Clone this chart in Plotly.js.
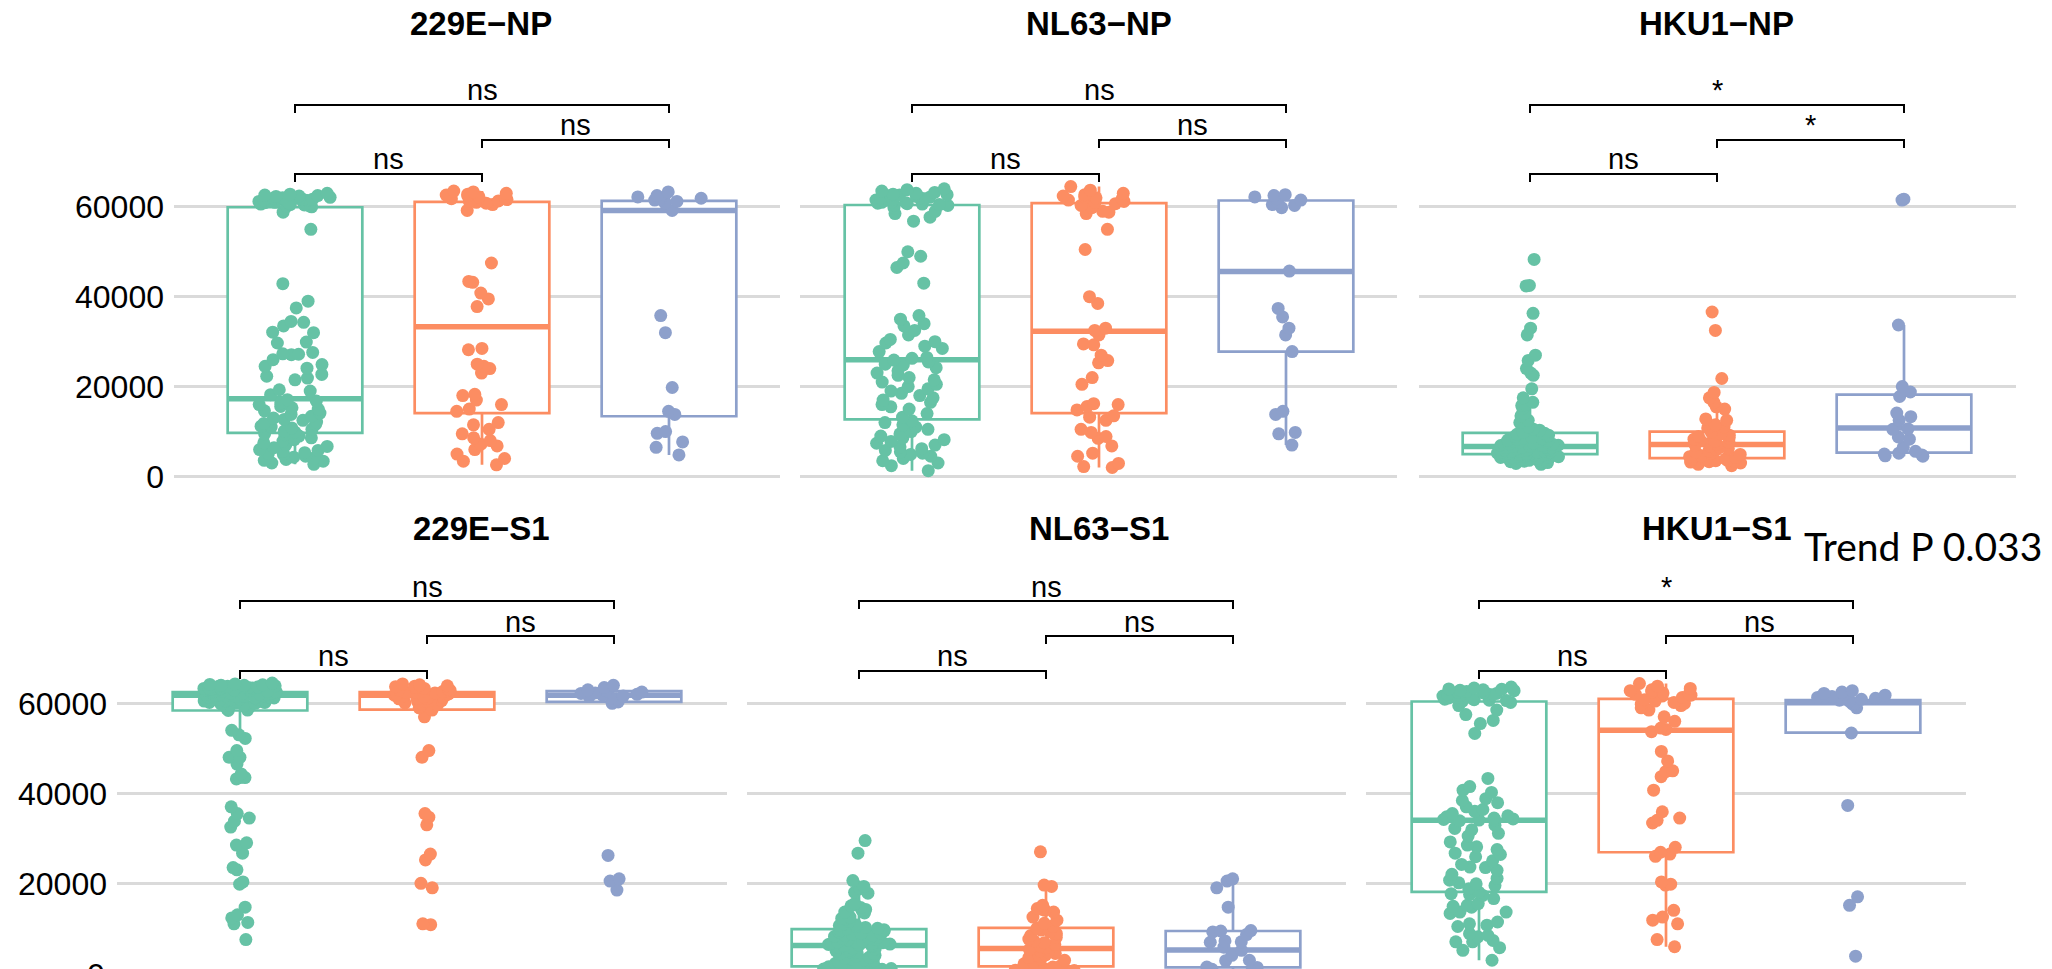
<!DOCTYPE html>
<html><head><meta charset="utf-8">
<script src="https://cdn.plot.ly/plotly-3.0.1.min.js"></script>
<style>html,body{margin:0;padding:0;background:#fff;overflow:hidden}#chart{width:2052px;height:969px}</style>
</head><body><div id="chart"></div>
<script>
// ---------------- DATA ----------------
const titles = ['229E−NP','NL63−NP','HKU1−NP','229E−S1','NL63−S1','HKU1−S1'];
const groupColors = ['#66C2A5','#FC8D62','#8DA0CB'];
const yTicks = [0, 20000, 40000, 60000];
const trendText = 'Trend P 0.033';

// 229E-NP
const g_229E_NP = [63000,62800,62600,62500,62400,62300,62100,62000,61900,61800,61700,61600,61500,61400,61300,61200,61100,61000,60900,60800,60600,60500,60400,60200,60100,
 60000,58800,55000,42900,39000,37500,34500,34300,33500,32100,32000,29900,29700,27600,27300,27200,27100,26000,24900,24500,24100,22700,22300,21900,21500,
 19300,19000,18200,17100,16800,16400,16000,15600,15300,15000,14600,14100,13800,13400,13000,12700,12500,12100,11800,11600,11200,11000,10800,10500,10100,
 9900,9500,9300,9000,8600,8200,7900,7500,7100,6700,6400,6000,5800,5600,5300,5100,4900,4500,4300,4100,3800,3600,3400,3000,2700];
const o_229E_NP = [63500,63300,63000,62800,62600,62400,62200,62000,61800,61600,61500,61300,61200,61000,60800,60500,59200,47500,43400,43200,40800,39500,37800,
 28500,28200,25000,24500,24000,23000,18300,18000,17000,16000,15000,14500,12000,11500,10500,9500,8600,8000,7200,6800,6000,5000,4000,3400,2600];
const b_229E_NP = [63300,62500,62200,62000,61900,61700,61500,61200,60800,59200,35800,32000,19800,14500,13800,10000,9600,7700,6500,4800];
const lo_229E_NP = [2700, 2600, 4800];
const q1_229E_NP = [9700, 14100, 13400];
const med_229E_NP = [17300, 33300, 59200];
const q3_229E_NP = [59900, 61100, 61300];
const hi_229E_NP = [63000, 63500, 63300];
const sig_229E_NP = ['ns','ns','ns'];   // [1 vs 3, 2 vs 3, 1 vs 2]

// NL63-NP
const g_NL63_NP = [64000,63500,63200,63000,62800,62600,62500,62300,62100,62000,61900,61800,61600,61500,61300,61100,61000,60900,60800,60700,60600,60500,60450,63800,62700,
 60300,59800,59000,58500,57700,56800,50000,49000,47500,46500,43000,35800,35000,34000,33500,32500,31500,30500,30000,29700,29000,28500,27800,26500,26300,
 25900,25500,25000,24800,24200,23500,23000,22500,22000,21500,21000,20500,20000,19500,19000,18500,18000,17500,17000,16500,16000,15500,15000,14000,13200,
 12400,12000,11500,11000,10500,10000,9500,9000,8600,8200,7800,7400,7000,6600,6200,5800,5500,5200,4900,4500,4000,3500,3000,2400,1300];
const o_NL63_NP = [64500,63700,63000,62700,62400,62200,62000,61800,61500,61200,61000,
 60700,60300,59800,59000,58800,58500,55000,50500,40000,38500,33000,32500,
 31500,29500,29300,27000,25800,25300,22000,20500,16200,16000,15600,14800,
 13500,13200,12500,10500,9800,8900,8500,6800,5200,4500,2900,2200,2000];
const b_NL63_NP = [62700,62500,62200,61800,61500,61000,60500,60300,59800,45700,37400,35500,33000,31500,27800,14500,13800,9800,9500,7000];
const lo_NL63_NP = [1300, 2000, 7000];
const q1_NL63_NP = [12700, 14100, 27800];
const med_NL63_NP = [26000, 32300, 45600];
const q3_NL63_NP = [60400, 60800, 61400];
const hi_NL63_NP = [64000, 64500, 62700];
const sig_NL63_NP = ['ns','ns','ns'];

// HKU1-NP
const g_HKU1_NP = [48300,42500,42400,36300,33000,31500,27000,25800,24000,23000,22500,19500,17500,16500,16000,15800,15200,14000,13500,12500,12000,11000,10500,10300,9800,
 9600,9400,9200,9000,8900,8700,8600,8400,8300,8100,8000,7900,7800,7700,7600,7500,7400,7300,7200,7100,7000,6950,6900,6800,6750,
 6650,6600,6500,6450,6400,6300,6200,6150,6100,6000,5900,5850,5800,5700,5600,5550,5500,5400,5350,5300,5200,5150,5100,5050,5000,
 4950,4900,4850,4800,4700,4650,4600,4500,4450,4400,4300,4250,4200,4100,4000,3900,3800,3700,3600,3500,3400,3300,3100,2900,2700];
const o_HKU1_NP = [36600,32500,21800,18700,17500,16500,15500,15000,12800,12500,11500,11000,10800,
 9800,9500,9200,8900,8600,8300,8000,7800,7600,7400,7200,
 7000,6800,6500,6200,6000,5700,5400,5100,4900,4600,4400,4200,
 4000,3900,3800,3700,3600,3500,3400,3300,3200,3000,2700,2400];
const b_HKU1_NP = [61700,61500,33700,20000,18800,17800,14100,13300,12500,10600,10500,8800,8300,6500,5600,5200,5000,4800,4600,4500];
const lo_HKU1_NP = [2700, 2400, 4500];
const q1_HKU1_NP = [5000, 4100, 5300];
const med_HKU1_NP = [6700, 7100, 10800];
const q3_HKU1_NP = [9700, 10000, 18200];
const hi_HKU1_NP = [16500, 18700, 33700];
const sig_HKU1_NP = ['*','*','ns'];

// 229E-S1
const g_229E_S1 = [64500,64300,64200,64100,64000,64000,63900,63800,63800,63700,
 63600,63500,63500,63400,63300,63300,63200,63200,63100,63000,
 62900,62900,62800,62700,62700,62600,62600,62500,62400,62300,
 62300,62200,62100,62100,62000,62000,61900,61800,61700,61700,
 61600,61500,61500,61400,61400,61300,61200,61100,61100,61000,
 60900,60900,60800,60800,60700,60600,60500,60500,60400,60300,
 60200,60200,60100,60000,59800,59600,59500,59200,58800,58500,58400,
 54000,53000,52200,49500,48000,48000,46500,44300,43500,43500,43200,37000,35500,34500,33800,32500,29000,28500,26700,23500,23000,20300,19800,14700,13000,12300,11300,11000,7500];
const o_229E_S1 = [64300,64100,63900,63800,63700,63500,63300,63100,63000,62900,
 62700,62600,62500,62400,62300,62100,62000,61900,61800,61700,
 61500,61300,61200,61100,61000,60900,60700,60600,60500,60300,
 60100,59900,59700,59300,59000,
 58500,57000,49500,48000,35500,34700,33000,26500,25200,20000,19000,11000,10800];
const b_229E_S1 = [64000,63500,63000,62800,62500,62300,62200,62000,61800,61600,61500,61200,61000,60600,60300,60000,26200,21000,20500,18500];
const lo_229E_S1 = [54000, 57000, 60000];
const q1_229E_S1 = [58400, 58600, 60300];
const med_229E_S1 = [61800, 61800, 61800];
const q3_229E_S1 = [62500, 62500, 62700];
const hi_229E_S1 = [64500, 64300, 64000];
const sig_229E_S1 = ['ns','ns','ns'];

// NL63-S1
const g_NL63_S1 = [29500,26700,20600,19300,18800,18000,17800,15500,15000,14600,14200,14000,13600,13400,12500,12200,12000,11500,11000,10800,10600,10400,10200,10000,9900,
 9700,9500,9400,9200,9000,8900,8700,8500,8400,8200,8000,7900,7700,7500,7400,7200,7000,6900,6800,6700,6600,6500,6400,6300,6250,
 6150,6000,5800,5600,5400,5200,5000,4800,4600,4400,4200,4000,3800,3600,3400,3200,3000,2800,2600,2400,2200,2000,1900,1750,1600,
 1500,1450,1400,1350,1300,1250,1200,1150,1100,1050,1000,950,900,850,800,750,700,650,600,550,500,450,400,350,300];
const o_NL63_S1 = [27000,19600,19300,15100,14400,14200,14000,13600,12500,11800,11100,10500,
 10000,9600,9200,8800,8400,8000,7600,7200,6800,6400,6000,5700,
 5300,5000,4700,4400,4100,3800,3500,3200,2900,2500,2100,1700,
 1500,1400,1300,1200,1100,1000,900,800,700,600,500,400];
const b_NL63_S1 = [21000,20500,19000,14700,9500,9400,9200,8600,7200,7000,6900,5800,5100,4000,2900,2800,1400,1300,900,500];
const lo_NL63_S1 = [300, 400, 500];
const q1_NL63_S1 = [1550, 1550, 1300];
const med_NL63_S1 = [6200, 5500, 5200];
const q3_NL63_S1 = [9800, 10100, 9400];
const hi_NL63_S1 = [20600, 19600, 21000];
const sig_NL63_S1 = ['ns','ns','ns'];

// HKU1-S1
const g_HKU1_S1 = [63600,63400,63200,63100,62900,62800,62600,62500,62300,62200,62000,61900,61800,61600,61500,61300,61200,61000,60900,60800,60700,60600,60500,63000,62100,
 60200,59500,58500,57500,56200,55500,53300,43300,41500,40700,40200,38800,38400,37900,37000,36400,36000,35500,35000,34800,34500,34300,34200,34100,34050,
 33900,32900,32200,31900,31100,30500,29200,28500,28100,27500,26700,26400,25900,25000,24200,23600,23500,22900,22000,21100,20700,20100,19900,19500,18800,
 18000,17700,17500,17300,16600,15500,15100,14900,14700,13600,13600,13300,11400,11000,10700,10400,8800,8400,8100,7300,7000,7000,5700,5100,2900];
const o_HKU1_S1 = [64400,63800,63300,63000,62800,62500,62300,62100,62000,61800,61600,61300,
 60800,60500,60200,60000,59800,59500,59000,58500,57000,56000,54500,54200,
 53700,49300,47200,45000,44800,43700,40700,35900,34500,34000,33400,28000,
 26900,26500,26000,20300,19800,19600,14000,12500,11800,11000,7500,5900];
const b_HKU1_S1 = [62800,62500,62200,62000,61800,61500,61300,61100,61000,60900,60700,60400,60000,59800,59000,53400,37300,17000,15100,3800];
const lo_HKU1_S1 = [2900, 5900, 53400];
const q1_HKU1_S1 = [18100, 26900, 53500];
const med_HKU1_S1 = [34000, 54000, 60100];
const q3_HKU1_S1 = [60400, 61000, 60700];
const hi_HKU1_S1 = [63600, 64400, 62800];
const sig_HKU1_S1 = ['*','ns','ns'];

const panelData = [
  {title: titles[0], pts: [g_229E_NP, o_229E_NP, b_229E_NP], lo: lo_229E_NP, q1: q1_229E_NP, med: med_229E_NP, q3: q3_229E_NP, hi: hi_229E_NP, sig: sig_229E_NP},
  {title: titles[1], pts: [g_NL63_NP, o_NL63_NP, b_NL63_NP], lo: lo_NL63_NP, q1: q1_NL63_NP, med: med_NL63_NP, q3: q3_NL63_NP, hi: hi_NL63_NP, sig: sig_NL63_NP},
  {title: titles[2], pts: [g_HKU1_NP, o_HKU1_NP, b_HKU1_NP], lo: lo_HKU1_NP, q1: q1_HKU1_NP, med: med_HKU1_NP, q3: q3_HKU1_NP, hi: hi_HKU1_NP, sig: sig_HKU1_NP},
  {title: titles[3], pts: [g_229E_S1, o_229E_S1, b_229E_S1], lo: lo_229E_S1, q1: q1_229E_S1, med: med_229E_S1, q3: q3_229E_S1, hi: hi_229E_S1, sig: sig_229E_S1},
  {title: titles[4], pts: [g_NL63_S1, o_NL63_S1, b_NL63_S1], lo: lo_NL63_S1, q1: q1_NL63_S1, med: med_NL63_S1, q3: q3_NL63_S1, hi: hi_NL63_S1, sig: sig_NL63_S1},
  {title: titles[5], pts: [g_HKU1_S1, o_HKU1_S1, b_HKU1_S1], lo: lo_HKU1_S1, q1: q1_HKU1_S1, med: med_HKU1_S1, q3: q3_HKU1_S1, hi: hi_HKU1_S1, sig: sig_HKU1_S1}
];

// ---------------- LAYOUT GEOMETRY ----------------
const W = 2052, H = 969;
const px = p => p / W;
const py = p => 1 - p / H;
const CAT = 187;                     // pixels per category step
const FONT = 'Liberation Sans, Arial, Helvetica, sans-serif';
const geom = [
  {l: 174, r: 780, c0: 295, row: 0}, {l: 800, r: 1397, c0: 912, row: 0}, {l: 1419, r: 2016, c0: 1530, row: 0},
  {l: 117, r: 727, c0: 240, row: 1}, {l: 747, r: 1346, c0: 859, row: 1}, {l: 1366, r: 1966, c0: 1479, row: 1}
];
const rowsG = [
  {top: 60, bot: 490, zero: 476.5, k: 269.7 / 60000, titleY: 24, brY: [105, 140, 174], labY: [90, 125, 159]},
  {top: 560, bot: 969, zero: 973.3, k: 270 / 60000, titleY: 528, brY: [601, 636, 671], labY: [587, 622, 656]}
];
const titleX = [481, 1099, 1716, 481, 1099, 1716];
const pairs = [[0, 2], [1, 2], [0, 1]];
const BOXW = 0.72;

const traces = [];
const shapes = [];
const annotations = [];
const layout = {
  width: W, height: H, margin: {l: 0, r: 0, t: 0, b: 0, pad: 0},
  paper_bgcolor: '#ffffff', plot_bgcolor: 'rgba(0,0,0,0)',
  showlegend: false, boxmode: 'overlay', font: {family: FONT, color: '#000'}
};

panelData.forEach((p, i) => {
  const G = geom[i], R = rowsG[G.row];
  const sfx = i === 0 ? '' : String(i + 1);
  const xr = 'x' + sfx, yr = 'y' + sfx;
  layout['xaxis' + sfx] = {
    domain: [px(G.l), px(G.r)], range: [(G.l - G.c0) / CAT, (G.r - G.c0) / CAT],
    showgrid: false, zeroline: false, showticklabels: false, ticks: '', showline: false,
    fixedrange: true, anchor: yr
  };
  layout['yaxis' + sfx] = {
    domain: [py(R.bot), py(R.top)], range: [(R.zero - R.bot) / R.k, (R.zero - R.top) / R.k],
    tickvals: yTicks, ticktext: yTicks.map(String), showticklabels: (i === 0 || i === 3),
    showgrid: true, gridcolor: '#dadada', gridwidth: 3, zeroline: false, ticks: '', showline: false,
    tickfont: {family: FONT, size: 32, color: '#000'}, ticklabelstandoff: 9,
    fixedrange: true, anchor: xr
  };

  for (let j = 0; j < 3; j++) {
    const col = groupColors[j];
    traces.push({
      type: 'box', xaxis: xr, yaxis: yr, x: [j],
      q1: [p.q1[j]], median: [p.med[j]], q3: [p.q3[j]], lowerfence: [p.lo[j]], upperfence: [p.hi[j]],
      width: BOXW, whiskerwidth: 0, boxpoints: false, fillcolor: '#ffffff',
      line: {color: col, width: 2.7}, hoverinfo: 'skip'
    });
    traces.push({
      type: 'box', xaxis: xr, yaxis: yr, x: [j],
      q1: [p.med[j]], median: [p.med[j]], q3: [p.med[j]], lowerfence: [p.med[j]], upperfence: [p.med[j]],
      width: BOXW, whiskerwidth: 0, boxpoints: false, fillcolor: col,
      line: {color: col, width: 5.5}, hoverinfo: 'skip'
    });
    traces.push({
      type: 'box', xaxis: xr, yaxis: yr, x: p.pts[j].map(() => j), y: p.pts[j],
      boxpoints: 'all', jitter: 0.54, pointpos: 0, width: BOXW,
      fillcolor: 'rgba(0,0,0,0)', line: {color: 'rgba(0,0,0,0)', width: 0},
      marker: {color: col, size: 13, opacity: 1, line: {width: 0}}, hoverinfo: 'skip'
    });
  }

  pairs.forEach(([a, b], k) => {
    const yl = R.brY[k], yt = yl + 8;
    shapes.push({
      type: 'path', xref: xr, yref: 'paper',
      path: `M${a},${py(yt)} L${a},${py(yl)} L${b},${py(yl)} L${b},${py(yt)}`,
      line: {color: '#000000', width: 2}
    });
    annotations.push({
      xref: xr, yref: 'paper', x: (a + b) / 2, y: py(R.labY[k]), text: p.sig[k],
      showarrow: false, xanchor: 'center', yanchor: 'middle',
      font: {family: FONT, size: 29, color: '#000'}
    });
  });

  annotations.push({
    xref: 'paper', yref: 'paper', x: px(titleX[i]), y: py(R.titleY), text: '<b>' + p.title + '</b>',
    showarrow: false, xanchor: 'center', yanchor: 'middle',
    font: {family: FONT, size: 33, color: '#000'}
  });
});

// trend label
annotations.push({
  xref: 'paper', yref: 'paper', x: px(1802), y: py(546), text: trendText,
  showarrow: false, xanchor: 'left', yanchor: 'middle',
  font: {family: 'Lato, Open Sans, sans-serif', size: 39, color: '#000'}
});
// partially visible zero label of the lower row (cut by the picture edge)
annotations.push({
  xref: 'paper', yref: 'paper', x: px(107), y: py(975), text: String(yTicks[0]),
  showarrow: false, xanchor: 'right', yanchor: 'middle',
  font: {family: FONT, size: 32, color: '#000'}
});

layout.shapes = shapes;
layout.annotations = annotations;

Plotly.newPlot('chart', traces, layout, {staticPlot: true, displayModeBar: false});
</script>
</body></html>
